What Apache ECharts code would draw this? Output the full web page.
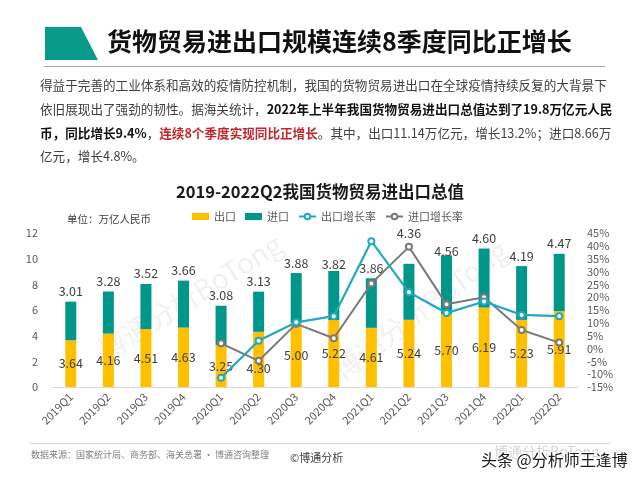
<!DOCTYPE html>
<html>
<head>
<meta charset="utf-8">
<script src="https://cdn.jsdelivr.net/npm/echarts@6/dist/echarts.min.js"></script>
<style>
html,body{margin:0;padding:0;background:#fff;}
#c{width:640px;height:480px;}
</style>
</head>
<body>
<div id="c"></div>
<script>
const categories = ['2019Q1','2019Q2','2019Q3','2019Q4','2020Q1','2020Q2','2020Q3','2020Q4','2021Q1','2021Q2','2021Q3','2021Q4','2022Q1','2022Q2'];
const exportVals = [3.64,4.16,4.51,4.63,3.25,4.30,5.00,5.22,4.61,5.24,5.70,6.19,5.23,5.91];
const importVals = [3.01,3.28,3.52,3.66,3.08,3.13,3.88,3.82,3.86,4.36,4.56,4.60,4.19,4.47];
const exportGrowth = [null,null,null,null,-11.4,3.0,10.2,12.6,41.8,21.9,13.8,18.3,13.1,12.6];
const importGrowth = [null,null,null,null,2.0,-4.8,9.6,4.0,25.3,39.6,17.2,20.0,7.2,2.3];
const seriesNames = ['出口','进口','出口增长率','进口增长率'];
const leftAxis = {min:0, max:12, interval:2};
const rightAxis = {min:-15, max:45, interval:5};

const FONT = '"Noto Sans CJK SC", "Noto Sans", sans-serif';
const chart = echarts.init(document.getElementById('c'));

// label nudges (presentation only)
const importLabelNudge = {7: 4, 9: -20, 10: 6};
const exportLabelNudge = {5: 9};

const exportData = exportVals.map((v,i)=> exportLabelNudge[i] ? {value:v, label:{offset:[0,exportLabelNudge[i]]}} : v);
const importData = importVals.map((v,i)=> importLabelNudge[i] ? {value:v, label:{offset:[0,importLabelNudge[i]]}} : v);

const option = {
  backgroundColor:'#fff',
  textStyle:{fontFamily:FONT},
  animation:false,
  title:{
    text:'2019-2022Q2我国货物贸易进出口总值',
    left:'center', top:178,
    textStyle:{fontSize:16.5, fontWeight:'bold', color:'#1a1a1a', fontFamily:FONT}
  },
  legend:{
    left:192, top:211, padding:0,
    itemWidth:17, itemHeight:7, itemGap:9,
    textStyle:{fontSize:11, color:'#595959', fontFamily:FONT},
    data:[
      {name:seriesNames[0], icon:'rect'},
      {name:seriesNames[1], icon:'rect'},
      {name:seriesNames[2]},
      {name:seriesNames[3]}
    ]
  },
  grid:{left:52, right:62, top:233, bottom:93},
  xAxis:{
    type:'category', data:categories,
    axisLine:{lineStyle:{color:'#D9D9D9'}},
    axisTick:{show:false},
    axisLabel:{rotate:45, fontSize:11, color:'#595959', margin:8, fontFamily:FONT}
  },
  yAxis:[
    {type:'value', min:leftAxis.min, max:leftAxis.max, interval:leftAxis.interval,
     axisLine:{show:false}, axisTick:{show:false}, splitLine:{show:false},
     axisLabel:{fontSize:11, color:'#595959', margin:14, fontFamily:FONT}},
    {type:'value', min:rightAxis.min, max:rightAxis.max, interval:rightAxis.interval,
     axisLine:{show:false}, axisTick:{show:false}, splitLine:{show:false},
     axisLabel:{fontSize:11, color:'#595959', margin:9, formatter:'{value}%', fontFamily:FONT}}
  ],
  series:[
    {name:seriesNames[0], type:'bar', stack:'t', barWidth:11, data:exportData,
     itemStyle:{color:'#FFC000'},
     label:{show:true, position:'inside', fontSize:12.5, color:'#404040', formatter:p=>p.value.toFixed(2)}},
    {name:seriesNames[1], type:'bar', stack:'t', barWidth:11, data:importData,
     itemStyle:{color:'#00968A'},
     label:{show:true, position:'top', distance:4, fontSize:12.5, color:'#404040', formatter:p=>p.value.toFixed(2)}},
    {name:seriesNames[2], type:'line', yAxisIndex:1, data:exportGrowth,
     symbol:'emptyCircle', symbolSize:6,
     lineStyle:{color:'#22A9C0', width:2.2},
     itemStyle:{color:'#22A9C0', borderWidth:1.6},
     z:5},
    {name:seriesNames[3], type:'line', yAxisIndex:1, data:importGrowth,
     symbol:'emptyCircle', symbolSize:6,
     lineStyle:{color:'#7A7A7A', width:2},
     itemStyle:{color:'#7A7A7A', borderWidth:1.6},
     z:4}
  ],
  graphic:[
    {type:'polygon', shape:{points:[[45,27],[81,27],[98,60],[45,60]]}, style:{fill:'#0A9A8C'}},
    {type:'text', left:107, top:29, style:{text:'货物贸易进出口规模连续8季度同比正增长', fill:'#111', font:'bold 25px '+FONT}},
    {type:'line', shape:{x1:44,y1:66.5,x2:605,y2:66.5}, style:{stroke:'#A6A6A6', lineWidth:1}},
    {type:'text', left:40, top:79, style:{
      text:'{n|得益于完善的工业体系和高效的疫情防控机制，我国的货物贸易进出口在全球疫情持续反复的大背景下}',
      rich:{n:{font:'12.6px '+FONT, fill:'#404040'}}}},
    {type:'text', left:40, top:103, style:{
      text:'{n|依旧展现出了强劲的韧性。据海关统计，}{b|2022年上半年我国货物贸易进出口总值达到了19.8万亿元人民}',
      rich:{n:{font:'12.6px '+FONT, fill:'#404040'}, b:{font:'bold 12.6px '+FONT, fill:'#111'}}}},
    {type:'text', left:40, top:127, style:{
      text:'{b|币，同比增长9.4%}{n|，}{r|连续8个季度实现同比正增长}{n|。其中，出口11.14万亿元，增长13.2%；进口8.66万}',
      rich:{n:{font:'12.6px '+FONT, fill:'#404040'}, b:{font:'bold 12.6px '+FONT, fill:'#111'}, r:{font:'bold 12.6px '+FONT, fill:'#C0262C'}}}},
    {type:'text', left:40, top:150, style:{
      text:'{n|亿元，增长4.8%。}',
      rich:{n:{font:'12.6px '+FONT, fill:'#404040'}}}},
    {type:'text', left:67, top:214, style:{text:'单位：万亿人民币', fill:'#404040', font:'10.5px '+FONT}},
    {type:'text', x:190, y:297, rotation:32*Math.PI/180, style:{text:'博通分析BoTong', fill:'rgba(0,0,0,0.06)', font:'28px '+FONT, align:'center', verticalAlign:'middle'}, z:-1},
    {type:'text', x:420, y:310, rotation:37*Math.PI/180, style:{text:'博通分析BoTong', fill:'rgba(0,0,0,0.06)', font:'28px '+FONT, align:'center', verticalAlign:'middle'}, z:-1},
    {type:'line', shape:{x1:30,y1:443.5,x2:610,y2:443.5}, style:{stroke:'#D9D9D9', lineWidth:1}},
    {type:'text', left:31, top:450, style:{text:'数据来源：国家统计局、商务部、海关总署 · 博通咨询整理', fill:'#7F7F7F', font:'9px '+FONT}},
    {type:'text', left:290, top:452, style:{text:'©博通分析', fill:'#404040', font:'11px '+FONT}},
    {type:'text', left:494, top:445, style:{text:'博通分析BoTong', fill:'rgba(0,0,0,0.18)', font:'14px '+FONT}},
    {type:'text', left:480, top:451, style:{text:'头条 @分析师王逢博', fill:'#1a1a1a', font:'16px '+FONT, stroke:'#fff', lineWidth:2}}
  ]
};
chart.setOption(option);
</script>
</body>
</html>
